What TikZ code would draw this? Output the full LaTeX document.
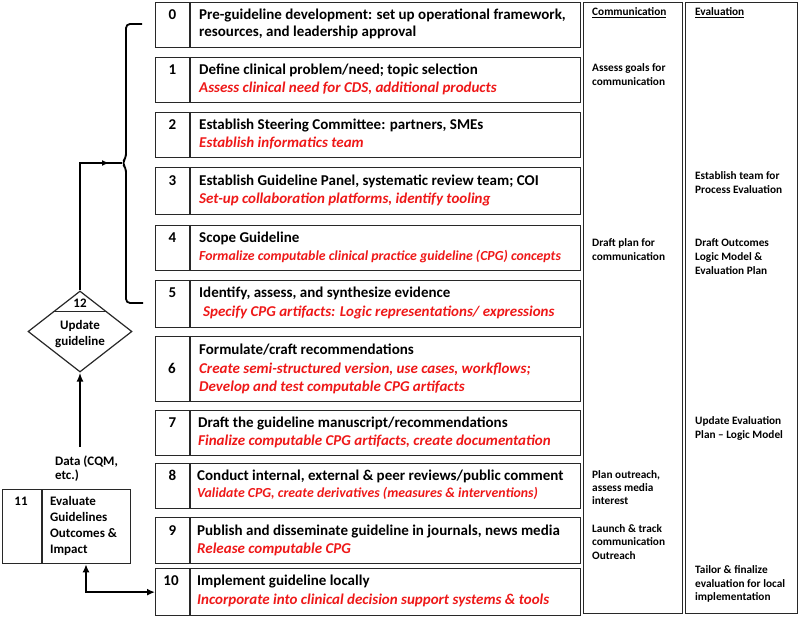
\documentclass[tikz,border=0pt]{standalone}
\usepackage{fontspec}
\setmainfont{Carlito}
\usetikzlibrary{shapes.geometric,arrows.meta,calc}
\definecolor{cpred}{RGB}{238,24,24}
\definecolor{edge}{RGB}{40,40,40}
\begin{document}
\begin{tikzpicture}[x=1pt,y=-1pt,
  box/.style={draw=edge, line width=1.3pt, inner sep=0pt, anchor=north west},
  colbox/.style={draw=edge, line width=1.3pt, inner sep=0pt, anchor=north west, minimum height=611pt},
  divline/.style={draw=edge, line width=1.3pt},
  tblack/.style={anchor=base west, inner sep=0pt, font=\fontsize{15}{18}\selectfont\bfseries},
  tred/.style={anchor=base west, inner sep=0pt, text=cpred, font=\fontsize{15}{18}\selectfont\bfseries\itshape},
  tredsm/.style={anchor=base west, inner sep=0pt, text=cpred, font=\fontsize{13.8}{16}\selectfont\bfseries\itshape},
  num/.style={anchor=base, inner sep=0pt, font=\fontsize{15}{18}\selectfont\bfseries},
  side/.style={anchor=base west, inner sep=0pt, font=\fontsize{13}{15}\selectfont\bfseries},
  col/.style={anchor=base west, inner sep=0pt, font=\fontsize{11.3}{13}\selectfont\bfseries},
  conn/.style={draw=black, line width=1.8pt},
  thickconn/.style={draw=black, line width=2.6pt}
]
\useasboundingbox (0,0) rectangle (800,617);

% ---------- step boxes ----------
\node[box, minimum width=425pt, minimum height=45pt] (b0) at (155,2) {};
\node[box, minimum width=425pt, minimum height=45pt] (b1) at (155,57) {};
\node[box, minimum width=425pt, minimum height=45pt] (b2) at (155,112) {};
\node[box, minimum width=425pt, minimum height=47pt] (b3) at (155,167) {};
\node[box, minimum width=425pt, minimum height=45pt] (b4) at (155,225) {};
\node[box, minimum width=425pt, minimum height=47pt] (b5) at (155,280) {};
\node[box, minimum width=425pt, minimum height=65pt] (b6) at (155,336) {};
\node[box, minimum width=425pt, minimum height=45pt] (b7) at (155,410) {};
\node[box, minimum width=425pt, minimum height=45pt] (b8) at (155,463) {};
\node[box, minimum width=425pt, minimum height=46pt] (b9) at (155,517) {};
\node[box, minimum width=425pt, minimum height=47pt] (b10) at (155,568) {};

\foreach \b in {b0,b1,b2,b3,b4,b5,b6,b7,b8,b9,b10}{
  \draw[divline] ($(\b.north west)+(35,0)$) -- ($(\b.south west)+(35,0)$);
}

% numbers
\node[num] (n0) at (172.5,20) {0};
\node[num] (n1) at (172.5,75) {1};
\node[num] (n2) at (172.5,130) {2};
\node[num] (n3) at (172.5,186) {3};
\node[num] (n4) at (172.5,243) {4};
\node[num] (n5) at (172.5,298) {5};
\node[num] (n6) at (172,373) {6};
\node[num] (n7) at (172.5,427) {7};
\node[num] (n8) at (172.5,480) {8};
\node[num] (n9) at (172.5,535) {9};
\node[num] (n10) at (171,585) {10};

% texts
\node[tblack] (t0a) at (199,20) {Pre-guideline development: set up operational framework,};
\node[tblack] (t0b) at (199,37) {resources, and leadership approval};
\node[tblack] (t1a) at (199,75) {Define clinical problem/need; topic selection};
\node[tred] (t1b) at (199,93) {Assess clinical need for CDS, additional products};
\node[tblack] (t2a) at (199,130) {Establish Steering Committee: partners, SMEs};
\node[tred] (t2b) at (199,148) {Establish informatics team};
\node[tblack] (t3a) at (199,186) {Establish Guideline Panel, systematic review team; COI};
\node[tred] (t3b) at (199,204) {Set-up collaboration platforms, identify tooling};
\node[tblack] (t4a) at (199,243) {Scope Guideline};
\node[tredsm] (t4b) at (199,261) {Formalize computable clinical practice guideline (CPG) concepts};
\node[tblack] (t5a) at (199,298) {Identify, assess, and synthesize evidence};
\node[tred] (t5b) at (203,317) {Specify CPG artifacts: Logic representations/ expressions};
\node[tblack] (t6a) at (199,355) {Formulate/craft recommendations};
\node[tred] (t6b) at (199,373) {Create semi-structured version, use cases, workflows;};
\node[tred] (t6c) at (199,391) {Develop and test computable CPG artifacts};
\node[tblack] (t7a) at (198,427) {Draft the guideline manuscript/recommendations};
\node[tred] (t7b) at (198,445) {Finalize computable CPG artifacts, create documentation};
\node[tblack] (t8a) at (197,480) {Conduct internal, external \& peer reviews/public comment};
\node[tredsm] (t8b) at (197,497) {Validate CPG, create derivatives (measures \& interventions)};
\node[tblack] (t9a) at (197,535) {Publish and disseminate guideline in journals, news media};
\node[tred] (t9b) at (197,553) {Release computable CPG};
\node[tblack] (t10a) at (197,585) {Implement guideline locally};
\node[tred] (t10b) at (197,604) {Incorporate into clinical decision support systems \& tools};

% ---------- columns ----------
\node[colbox, minimum width=99pt] (comm) at (583,2) {};
\node[colbox, minimum width=112pt] (eval) at (685,2) {};

\node[col] (ch) at (592,16) {\underline{Communication}};
\node[col] (c1a) at (592,72) {Assess goals for};
\node[col] (c1b) at (592,86) {communication};
\node[col] (c4a) at (592,247) {Draft plan for};
\node[col] (c4b) at (592,261) {communication};
\node[col] (c8a) at (592,478) {Plan outreach,};
\node[col] (c8b) at (592,491) {assess media};
\node[col] (c8c) at (592,504) {interest};
\node[col] (c9a) at (592,532) {Launch \& track};
\node[col] (c9b) at (592,545) {communication};
\node[col] (c9c) at (592,559) {Outreach};

\node[col] (eh) at (695,16) {\underline{Evaluation}};
\node[col] (e3a) at (695,180) {Establish team for};
\node[col] (e3b) at (695,194) {Process Evaluation};
\node[col] (e4a) at (695,247) {Draft Outcomes};
\node[col] (e4b) at (695,261) {Logic Model \&};
\node[col] (e4c) at (695,275) {Evaluation Plan};
\node[col] (e7a) at (695,424) {Update Evaluation};
\node[col] (e7b) at (695,438) {Plan -- Logic Model};
\node[col] (e10a) at (695,573) {Tailor \& finalize};
\node[col] (e10b) at (695,587) {evaluation for local};
\node[col] (e10c) at (695,600) {implementation};

% ---------- brace ----------
\draw[conn, rounded corners=4pt] (142,24) -- (126,24) -- (126,158) -- (122,163) -- (126,168) -- (126,303) -- (143,303);

% ---------- diamond 12 ----------
\node[draw=edge, line width=1.2pt, diamond, inner sep=0pt, minimum width=104pt, minimum height=81pt] (d) at (80,331.5) {};
\draw[draw=edge, line width=1.2pt] ($(d.north)!0.52!(d.west)$) -- ($(d.north)!0.52!(d.east)$);
\node[side, anchor=base] (d12) at (80,308) {12};
\node[side, anchor=base] (du1) at (80,330) {Update};
\node[side, anchor=base] (du2) at (80,345) {guideline};

\coordinate (bt) at (122,163);
\draw[conn] (d.north) |- (bt);
\draw[conn, -{Latex[length=7pt,width=6pt]}] (d.north |- bt) -- ++(29,0);

% ---------- data arrow ----------
\coordinate (ds) at (80,447);
\draw[conn, -{Latex[length=9pt,width=7pt]}] (ds) -- (d.south);
\node[side] (data1) at (55,465) {Data (CQM,};
\node[side] (data2) at (55,479) {etc.)};

% ---------- box 11 ----------
\node[box, minimum width=128pt, minimum height=74pt] (b11) at (2,489) {};
\draw[divline] ($(b11.north west)+(40,0)$) -- ($(b11.south west)+(40,0)$);
\node[side, anchor=base] (n11) at (21,505) {11};
\node[side] (t11a) at (50,505) {Evaluate};
\node[side] (t11b) at (50,521) {Guidelines};
\node[side] (t11c) at (50,537) {Outcomes \&};
\node[side] (t11d) at (50,553) {Impact};

\coordinate (a11) at ($(b11.south west)+(84,0)$);
\draw[thickconn, {Latex[length=8pt,width=7pt]}-{Latex[length=8pt,width=7pt]}] (a11) |- (b10.west);
\end{tikzpicture}
\end{document}
